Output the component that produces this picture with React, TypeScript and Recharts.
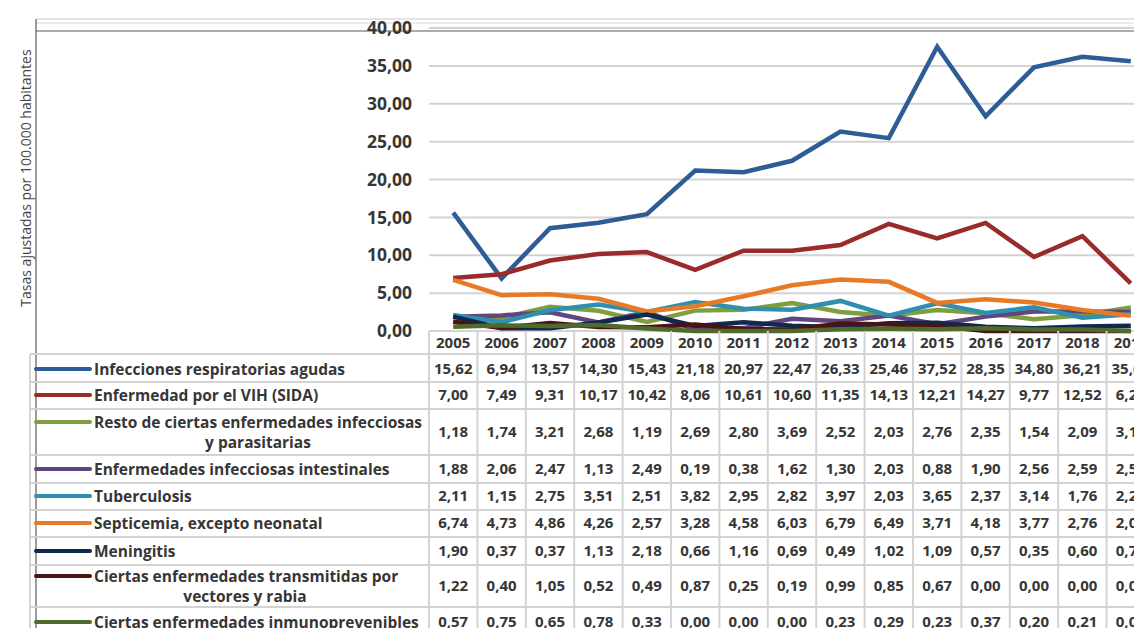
import React from 'react';
import { LineChart, Line, XAxis, YAxis, CartesianGrid, Customized } from 'recharts';

const years = ['2005', '2006', '2007', '2008', '2009', '2010', '2011', '2012', '2013', '2014', '2015', '2016', '2017', '2018', '2019'];

const infeccionesRespiratorias = [15.62, 6.94, 13.57, 14.3, 15.43, 21.18, 20.97, 22.47, 26.33, 25.46, 37.52, 28.35, 34.8, 36.21, 35.6];
const vihSida = [7.0, 7.49, 9.31, 10.17, 10.42, 8.06, 10.61, 10.6, 11.35, 14.13, 12.21, 14.27, 9.77, 12.52, 6.29];
const restoInfecciosas = [1.18, 1.74, 3.21, 2.68, 1.19, 2.69, 2.8, 3.69, 2.52, 2.03, 2.76, 2.35, 1.54, 2.09, 3.1];
const intestinales = [1.88, 2.06, 2.47, 1.13, 2.49, 0.19, 0.38, 1.62, 1.3, 2.03, 0.88, 1.9, 2.56, 2.59, 2.5];
const tuberculosis = [2.11, 1.15, 2.75, 3.51, 2.51, 3.82, 2.95, 2.82, 3.97, 2.03, 3.65, 2.37, 3.14, 1.76, 2.2];
const septicemia = [6.74, 4.73, 4.86, 4.26, 2.57, 3.28, 4.58, 6.03, 6.79, 6.49, 3.71, 4.18, 3.77, 2.76, 2.0];
const meningitis = [1.9, 0.37, 0.37, 1.13, 2.18, 0.66, 1.16, 0.69, 0.49, 1.02, 1.09, 0.57, 0.35, 0.6, 0.7];
const vectoresRabia = [1.22, 0.4, 1.05, 0.52, 0.49, 0.87, 0.25, 0.19, 0.99, 0.85, 0.67, 0.0, 0.0, 0.0, 0.0];
const inmunoprevenibles = [0.57, 0.75, 0.65, 0.78, 0.33, 0.0, 0.0, 0.0, 0.23, 0.29, 0.23, 0.37, 0.2, 0.21, 0.0];

const yTicks = [0, 5, 10, 15, 20, 25, 30, 35, 40];

const seriesLabels: string[][] = [
  ['Infecciones respiratorias agudas'],
  ['Enfermedad por el VIH (SIDA)'],
  ['Resto de ciertas enfermedades infecciosas', 'y parasitarias'],
  ['Enfermedades infecciosas intestinales'],
  ['Tuberculosis'],
  ['Septicemia, excepto neonatal'],
  ['Meningitis'],
  ['Ciertas enfermedades transmitidas por', 'vectores y rabia'],
  ['Ciertas enfermedades inmunoprevenibles'],
];
const seriesValues = [
  infeccionesRespiratorias, vihSida, restoInfecciosas, intestinales, tuberculosis,
  septicemia, meningitis, vectoresRabia, inmunoprevenibles,
];
const seriesColors = ['#2e5d96', '#9a2b2b', '#7e9e40', '#61457e', '#2f8fae', '#e87a26', '#10294e', '#4a1414', '#4f6a2a'];

const data = years.map((y, i) => {
  const row: Record<string, number | string> = { year: y };
  seriesValues.forEach((vals, s) => { row['s' + s] = vals[i]; });
  return row;
});

// layout constants
const COL_W = 48.4;
const PLOT_LEFT = 429;
const PLOT_RIGHT = PLOT_LEFT + COL_W * years.length;
const PLOT_TOP = 28;
const PLOT_BOTTOM = 331;
const HEADER_Y = 343;
const ROW_CENTERS = [369, 395, 432, 469, 496, 523, 551, 586, 622];
const ROW_LINES = [354, 382, 409, 455, 483, 510, 537, 565, 607];
const TABLE_BOTTOM = 660;
const LEGEND_LEFT = 30;
const CHART_W = 1200;
const CHART_H = 700;
const Y_AXIS_W = 100;
const X_AXIS_H = 300;

const TEXT_COLOR = '#363636';
const GRID_COLOR = '#d3d3d3';
const FONT = '"Open Sans", sans-serif';

const fmt = (v: number) => v.toFixed(2).replace('.', ',');

const ColumnTick = (props: any) => {
  const { x, payload } = props;
  const idx = years.indexOf(String(payload.value));
  return (
    <g>
      <line x1={x - COL_W / 2} x2={x - COL_W / 2} y1={PLOT_BOTTOM} y2={TABLE_BOTTOM} stroke={GRID_COLOR} strokeWidth={2} />
      {idx === years.length - 1 && (
        <line x1={x + COL_W / 2} x2={x + COL_W / 2} y1={PLOT_BOTTOM} y2={TABLE_BOTTOM} stroke={GRID_COLOR} strokeWidth={2} />
      )}
      <text x={x} y={HEADER_Y} dy="0.36em" textAnchor="middle" fontFamily={FONT} fontWeight={700} fontSize={15} fill={TEXT_COLOR}>
        {payload.value}
      </text>
      {seriesValues.map((vals, s) => (
        <text key={s} x={x} y={ROW_CENTERS[s]} dy="0.36em" textAnchor="middle" fontFamily={FONT} fontWeight={700} fontSize={15} fill={TEXT_COLOR}>
          {fmt(vals[idx])}
        </text>
      ))}
    </g>
  );
};

const TableFrame = () => (
  <g>
    {/* outer frame lines at the top */}
    <line x1={36} x2={CHART_W} y1={19} y2={19} stroke="#c8c8c8" strokeWidth={1} />
    <line x1={36} x2={CHART_W} y1={23} y2={23} stroke="#d8d8d8" strokeWidth={1} />
    <line x1={36} x2={CHART_W} y1={31} y2={31} stroke="#5a5a5a" strokeWidth={1.2} />
    <line x1={36} x2={36} y1={19} y2={TABLE_BOTTOM} stroke="#5a5a5a" strokeWidth={1.2} />
    {/* y axis title */}
    <text x={26} y={178} transform="rotate(-90 26 178)" textAnchor="middle" dy="0.36em" fontFamily={FONT} fontSize={14} fill="#454545">
      Tasas ajustadas por 100.000 habitantes
    </text>
    {/* table horizontal lines */}
    <line x1={PLOT_LEFT} x2={PLOT_RIGHT} y1={PLOT_BOTTOM} y2={PLOT_BOTTOM} stroke={GRID_COLOR} strokeWidth={2} />
    {ROW_LINES.map((y, i) => (
      <line key={i} x1={LEGEND_LEFT} x2={PLOT_RIGHT} y1={y} y2={y} stroke={GRID_COLOR} strokeWidth={2} />
    ))}
    <line x1={LEGEND_LEFT} x2={LEGEND_LEFT} y1={ROW_LINES[0]} y2={TABLE_BOTTOM} stroke={GRID_COLOR} strokeWidth={2} />
    {/* legend keys and labels */}
    {seriesLabels.map((lines, s) => {
      const cy = ROW_CENTERS[s];
      const multi = lines.length > 1;
      const firstY = multi ? cy - 10 : cy;
      const centerX = s === 2 ? 258 : 245;
      return (
        <g key={s}>
          <line x1={36} x2={90} y1={firstY} y2={firstY} stroke={seriesColors[s]} strokeWidth={4} strokeLinecap="round" />
          <text x={94} y={firstY} dy="0.36em" textAnchor="start" fontFamily={FONT} fontWeight={700} fontSize={15.5} fill={TEXT_COLOR}>
            {lines[0]}
          </text>
          {multi && (
            <text x={centerX} y={cy + 10} dy="0.36em" textAnchor="middle" fontFamily={FONT} fontWeight={700} fontSize={15.5} fill={TEXT_COLOR}>
              {lines[1]}
            </text>
          )}
        </g>
      );
    })}
  </g>
);

export default function App() {
  return (
    <div style={{ position: 'absolute', left: 0, top: 0, width: 1134, height: 628, overflow: 'hidden', background: '#fff' }}>
      <LineChart
        width={CHART_W}
        height={CHART_H}
        data={data}
        margin={{ top: PLOT_TOP, left: PLOT_LEFT - Y_AXIS_W, right: CHART_W - PLOT_RIGHT, bottom: CHART_H - PLOT_BOTTOM - X_AXIS_H }}
      >
        <CartesianGrid vertical={false} horizontal stroke={GRID_COLOR} strokeWidth={2} />
        <XAxis
          dataKey="year"
          interval={0}
          height={X_AXIS_H}
          padding={{ left: COL_W / 2, right: COL_W / 2 }}
          axisLine={false}
          tickLine={false}
          tick={<ColumnTick />}
        />
        <YAxis
          width={Y_AXIS_W}
          domain={[0, 40]}
          ticks={yTicks}
          interval={0}
          axisLine={false}
          tickLine={false}
          tickSize={0}
          tickMargin={17}
          tickFormatter={fmt}
          tick={{ fontFamily: FONT, fontWeight: 700, fontSize: 17.5, fill: TEXT_COLOR }}
        />
        <Customized component={TableFrame} />
        {seriesValues.map((_, s) => (
          <Line
            key={s}
            type="linear"
            dataKey={'s' + s}
            stroke={seriesColors[s]}
            strokeWidth={4.5}
            dot={false}
            isAnimationActive={false}
          />
        ))}
      </LineChart>
    </div>
  );
}
